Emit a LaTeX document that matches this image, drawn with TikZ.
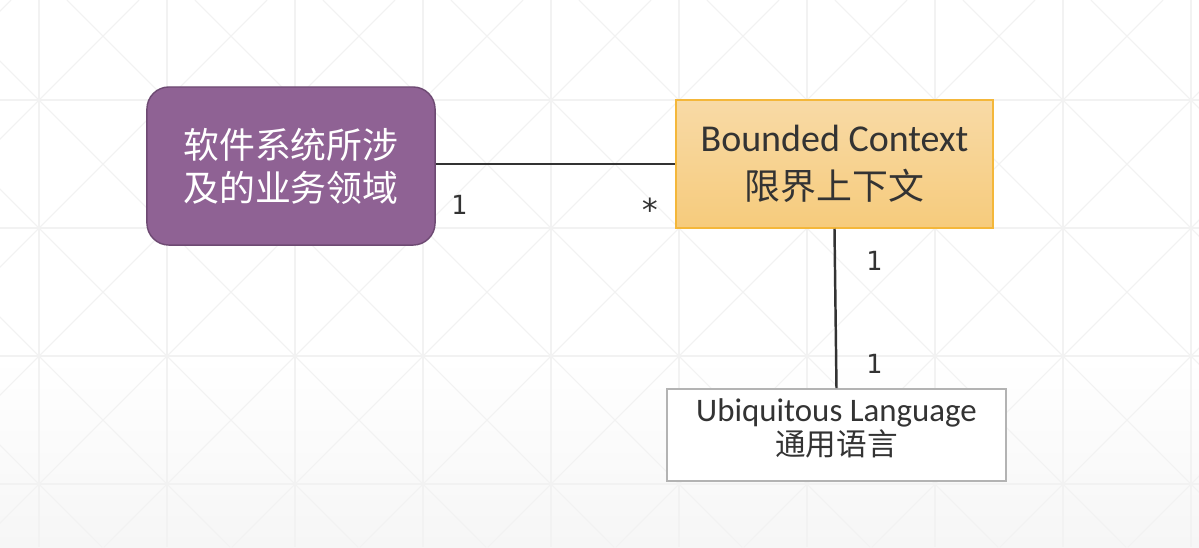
\documentclass[tikz,border=0pt]{standalone}
\usepackage{fontspec}
\setmainfont{Carlito}
\newfontfamily\cjk{Noto Sans CJK SC}
\newfontfamily\mono{DejaVu Sans Mono}
\usepackage{xcolor}
\usepackage{tikz}
\definecolor{bg}{HTML}{FFFFFF}
\definecolor{bgdark}{HTML}{F6F6F6}
\definecolor{grid}{HTML}{F2F2F2}
\definecolor{text}{HTML}{333333}
\definecolor{areabg}{HTML}{8F6294}
\definecolor{arealine}{HTML}{6E4A73}
\definecolor{ctxtop}{HTML}{F8DAA6}
\definecolor{ctxbot}{HTML}{F6CB7C}
\definecolor{ctxline}{HTML}{F4B73A}
\definecolor{langline}{HTML}{B3B3B3}
\tikzset{
  gridl/.style={draw=grid, line width=0.3pt},
  area/.style={draw=arealine, fill=areabg, line width=0.4pt, rounded corners=0.22cm, minimum width=2.88cm, minimum height=1.58cm, align=center, text=white, font=\cjk\fontsize{10.2}{12.2}\selectfont},
  ctx/.style={draw=ctxline, top color=ctxtop, bottom color=ctxbot, line width=0.4pt, minimum width=3.17cm, minimum height=1.28cm, align=center, text=text, font=\fontsize{10.8}{13.5}\selectfont},
  lang/.style={draw=langline, fill=white, line width=0.5pt, minimum width=3.39cm, minimum height=0.92cm, inner ysep=1pt, text depth=4.5pt, align=center, text=text, font=\fontsize{9.35}{9.8}\selectfont},
  rel/.style={draw=text, line width=0.7pt},
  mult/.style={text=text, font=\mono\fontsize{7.5}{8}\selectfont, inner sep=0pt},
}
\begin{document}
\begin{tikzpicture}[x=0.01cm, y=-0.01cm]
  \useasboundingbox (0,0) rectangle (1199,547);
  \fill[bg] (0,0) rectangle (1199,547);
  \shade[top color=bg, bottom color=bgdark] (0,357) rectangle (1199,547);
  \begin{scope}
    \clip (0,0) rectangle (1199,547);
    \foreach \x in {39,167,...,1191}{
      \draw[gridl] (\x,0) -- (\x,547);
    }
    \foreach \y in {100,228,356,484}{
      \draw[gridl] (0,\y) -- (1199,\y);
    }
    \foreach \c in {-701,-573,...,1219}{
      \draw[gridl] (\c,0) -- ++(547,547);
    }
    \foreach \c in {11,139,...,1803}{
      \draw[gridl] (\c,0) -- ++(-547,547);
    }
  \end{scope}
  \node[area] (domain) at (291,166) {软件系统所涉\\及的业务领域};
  \node[ctx] (bc) at (834.5,164) {Bounded Context\\{\cjk\fontsize{10.2}{13.5}\selectfont 限界上下文}};
  \node[lang] (ul) at (836.5,435) {Ubiquitous Language\\{\cjk\fontsize{8.7}{9.8}\selectfont 通用语言}};
  \draw[rel] (domain.east |- bc.west) -- (bc.west);
  \draw[rel] (bc.south) -- (ul.north);
  \node[mult] (m1) at (459,205) {1};
  \node[mult, font=\mono\fontsize{9}{9}\selectfont] (m2) at (650,210) {*};
  \node[mult] (m3) at (874,261) {1};
  \node[mult] (m4) at (874,364) {1};
\end{tikzpicture}
\end{document}
